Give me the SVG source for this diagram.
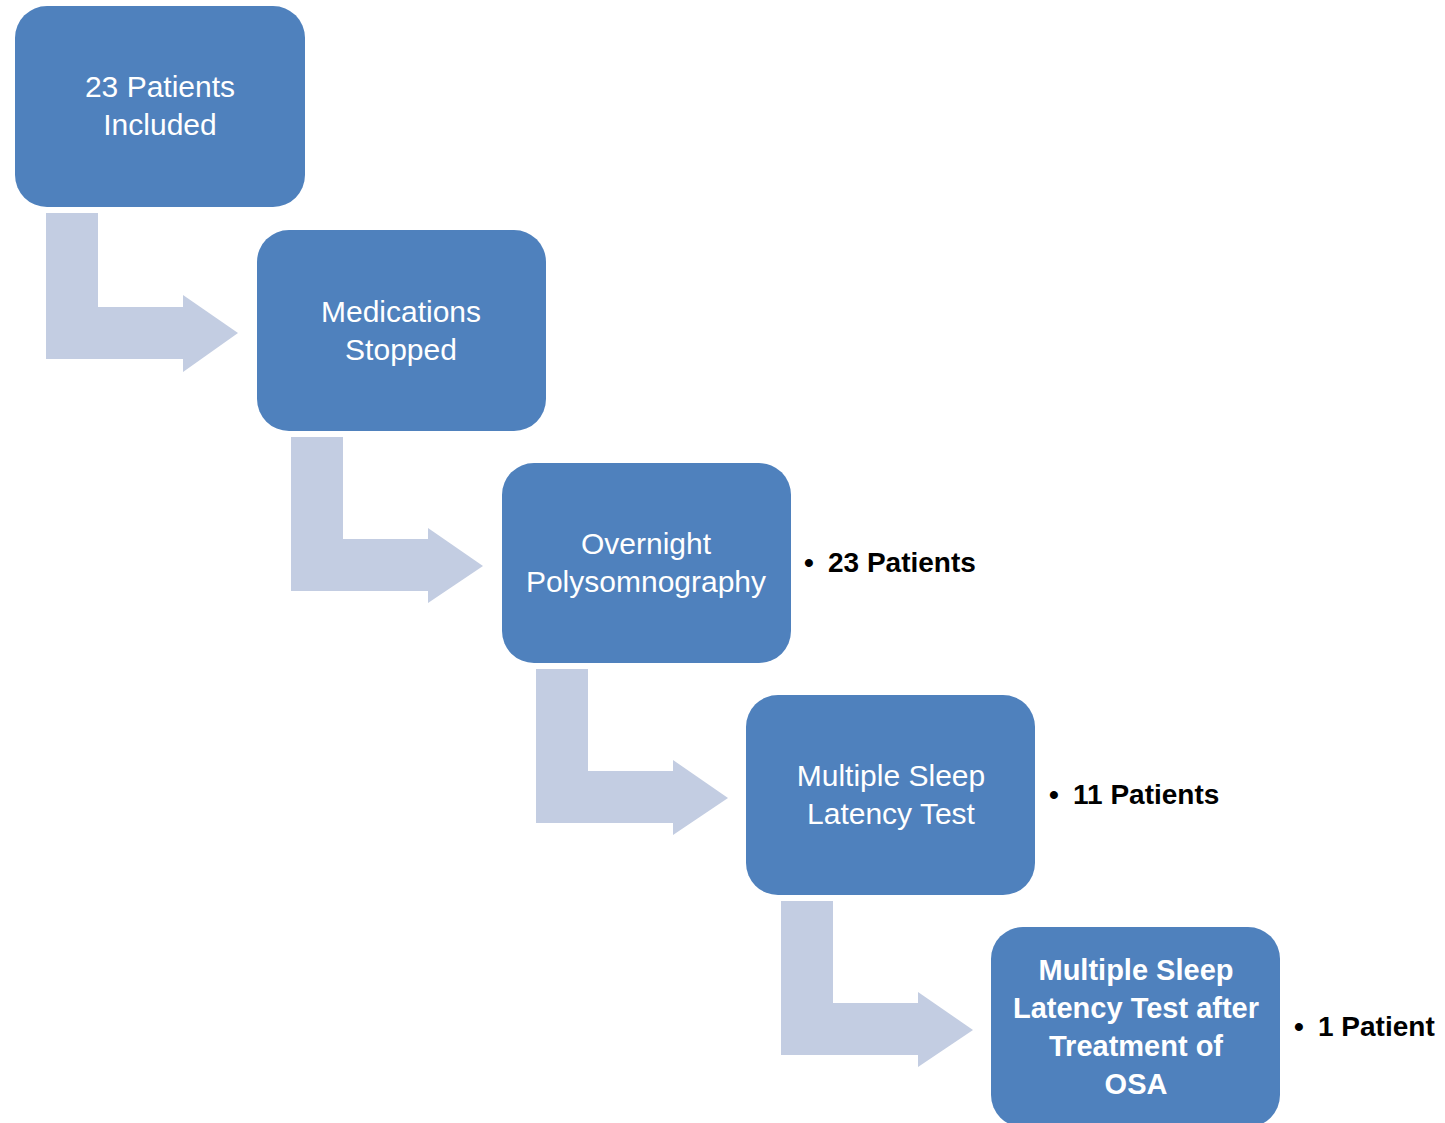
<svg xmlns="http://www.w3.org/2000/svg" width="1445" height="1123" viewBox="0 0 1445 1123">
<style>
.box{fill:#4F81BD;}
.arr{fill:#C3CDE2;}
.t{font-family:"Liberation Sans",Arial,sans-serif;font-size:30px;fill:#fff;text-anchor:middle;}
.tb{font-family:"Liberation Sans",Arial,sans-serif;font-size:29px;font-weight:bold;fill:#fff;text-anchor:middle;}
.side{font-family:"Liberation Sans",Arial,sans-serif;font-size:28px;font-weight:bold;fill:#000;}
</style>
<defs>
<path id="bent" d="M0,0 H52 V102 H137 V91 L192,129 L137,166 V154 H0 Z"/>
</defs>
<g id="connectors">
<path class="arr" d="M46,213 H98 V307 H183 V295 L238,333 L183,372 V359 H46 Z"/>
<use href="#bent" class="arr" x="291" y="437"/>
<use href="#bent" class="arr" x="536" y="669"/>
<use href="#bent" class="arr" x="781" y="901"/>
</g>
<g id="n1"><rect class="box" x="15" y="6" width="290" height="201" rx="32"/>
<text class="t" x="160" y="97">23 Patients</text><text class="t" x="160" y="135">Included</text></g>
<g id="n2"><rect class="box" x="257" y="230" width="289" height="201" rx="32"/>
<text class="t" x="401" y="322">Medications</text><text class="t" x="401" y="360">Stopped</text></g>
<g id="n3"><rect class="box" x="502" y="463" width="289" height="200" rx="32"/>
<text class="t" x="646" y="554">Overnight</text><text class="t" x="646" y="592">Polysomnography</text></g>
<g id="n4"><rect class="box" x="746" y="695" width="289" height="200" rx="32"/>
<text class="t" x="891" y="786">Multiple Sleep</text><text class="t" x="891" y="824">Latency Test</text></g>
<g id="n5"><rect class="box" x="991" y="927" width="289" height="200" rx="32"/>
<text class="tb" x="1136" y="980">Multiple Sleep</text><text class="tb" x="1136" y="1018">Latency Test after</text><text class="tb" x="1136" y="1056">Treatment of</text><text class="tb" x="1136" y="1094">OSA</text></g>
<g id="labels">
<text class="side" x="804" y="572">•<tspan x="828">23 Patients</tspan></text>
<text class="side" x="1049" y="804">•<tspan x="1073">11 Patients</tspan></text>
<text class="side" x="1294" y="1036">•<tspan x="1318">1 Patient</tspan></text>
</g>
</svg>
